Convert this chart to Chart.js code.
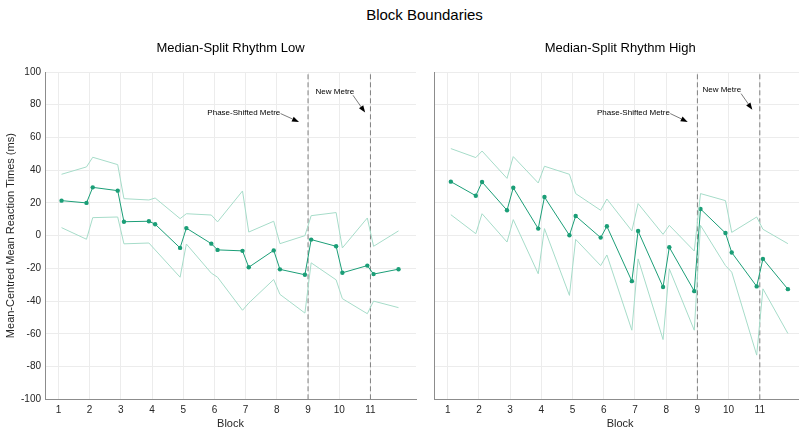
<!DOCTYPE html>
<html>
<head>
<meta charset="utf-8">
<script src="https://cdn.jsdelivr.net/npm/chart.js@4.4.1/dist/chart.umd.min.js"></script>
<style>
  html, body { margin: 0; padding: 0; background: #fff; }
  #fig { position: relative; width: 799px; height: 433px; overflow: hidden; font-family: "Liberation Sans", Arial, sans-serif; }
  #suptitle { position: absolute; left: 0; top: 6px; width: 849px; text-align: center; font-size: 15px; color: #000; }
  .panel { position: absolute; top: 0; height: 433px; }
</style>
</head>
<body>
<div id="fig">
  <div id="suptitle">Block Boundaries</div>
  <div class="panel" style="left:0;width:420px"><canvas id="low" width="420" height="433"></canvas></div>
  <div class="panel" style="left:420px;width:390px"><canvas id="high" width="390" height="433"></canvas></div>
</div>
<script>
// x positions of the first / second half of each block
const blockPos = [1.1, 1.9, 2.1, 2.9, 3.1, 3.9, 4.1, 4.9, 5.1, 5.9, 6.1, 6.9, 7.1, 7.9, 8.1, 8.9, 9.1, 9.9, 10.1, 10.9, 11.1, 11.9];
const blockTicks = [1, 2, 3, 4, 5, 6, 7, 8, 9, 10, 11];
const boundaryBlocks = [9, 11];

// Median-split rhythm low
const lowMean  = [21.4, 20.0, 29.5, 27.5, 8.5, 8.8, 7.0, -7.5, 4.6, -4.9, -8.7, -9.3, -19.3, -9.0, -20.6, -23.9, -2.4, -6.5, -22.7, -18.3, -23.5, -20.5];
const lowUpper = [37.5, 42.0, 47.9, 43.4, 22.6, 21.8, 23.0, 10.4, 13.4, 12.6, 8.4, 27.3, 2.2, 8.8, -4.9, 0.0, 12.2, 14.1, -7.5, 10.8, -6.5, 2.9];
const lowLower = [4.9, -2.2, 11.0, 11.4, -5.0, -4.5, -8.7, -25.4, -5.1, -22.9, -25.4, -45.6, -41.2, -26.8, -35.9, -47.3, -16.6, -27.0, -38.5, -47.7, -40.0, -44.0];

// Median-split rhythm high
const highMean  = [33.0, 24.4, 32.8, 15.5, 29.3, 4.3, 23.6, 0.2, 12.0, -1.2, 5.7, -27.8, 2.8, -31.4, -7.1, -33.9, 16.3, 1.6, -10.3, -31.0, -14.2, -32.7];
const highUpper = [53.2, 47.7, 51.7, 35.0, 48.3, 32.2, 42.4, 37.5, 25.7, 15.5, 22.4, 2.9, 19.6, 0.8, 6.3, -9.4, 25.7, 21.4, 2.0, 11.4, 3.9, -4.9];
const highLower = [12.8, 1.2, 13.4, -3.9, 9.8, -23.3, 4.3, -36.5, -2.3, -18.3, -11.8, -57.8, -14.2, -63.5, -20.3, -57.8, 6.3, -18.3, -22.3, -73.0, -32.5, -59.8];

const MAIN = '#1b9e77';
const CI = '#a6dcc9';
const FONT = '"Liberation Sans", Arial, sans-serif';
const Y_MIN = -100, Y_MAX = 100;

const toXY = (vals) => vals.map((v, i) => ({ x: blockPos[i], y: v }));

// panel title + arrow annotations, placed in data coordinates
const panelDecor = {
  id: 'panelDecor',
  afterDraw(chart, args, opts) {
    const { ctx, chartArea, scales: { x, y } } = chart;
    ctx.save();
    ctx.fillStyle = '#000';
    ctx.font = '13px ' + FONT;
    ctx.textAlign = 'center';
    ctx.textBaseline = 'middle';
    ctx.fillText(opts.title, (chartArea.left + chartArea.right) / 2, 48);

    ctx.font = '8px ' + FONT;
    ctx.textAlign = 'right';
    opts.notes.forEach(n => {
      const tx = x.getPixelForValue(n.tx), ty = y.getPixelForValue(n.ty);
      ctx.fillStyle = '#000';
      ctx.fillText(n.text, tx, ty);
      const ax = x.getPixelForValue(n.ax), ay = y.getPixelForValue(n.ay);
      const hx = x.getPixelForValue(n.hx), hy = y.getPixelForValue(n.hy);
      const ang = Math.atan2(hy - ay, hx - ax);
      const len = 7, wid = 2.6;
      const bx = hx - len * Math.cos(ang), by = hy - len * Math.sin(ang);
      ctx.strokeStyle = '#222';
      ctx.lineWidth = 0.6;
      ctx.beginPath();
      ctx.moveTo(ax, ay);
      ctx.lineTo(bx, by);
      ctx.stroke();
      ctx.beginPath();
      ctx.moveTo(hx, hy);
      ctx.lineTo(bx + wid * Math.sin(ang), by - wid * Math.cos(ang));
      ctx.lineTo(bx - wid * Math.sin(ang), by + wid * Math.cos(ang));
      ctx.closePath();
      ctx.fill();
    });
    ctx.restore();
  }
};

function makePanel(id, title, mean, upper, lower, yAxisWidth, showY, padRight, xMax, notes) {
  const datasets = [
    { data: toXY(upper), borderColor: CI, borderWidth: 1, pointRadius: 0 },
    { data: toXY(lower), borderColor: CI, borderWidth: 1, pointRadius: 0 },
    { data: toXY(mean), borderColor: MAIN, backgroundColor: MAIN, borderWidth: 1,
      pointRadius: 2.2, pointBackgroundColor: MAIN, pointBorderWidth: 0 },
  ];
  boundaryBlocks.forEach(b => {
    datasets.push({ data: [{ x: b, y: Y_MIN }, { x: b, y: Y_MAX }], borderColor: '#808080',
      borderWidth: 1, borderDash: [5, 3], pointRadius: 0 });
  });

  return new Chart(document.getElementById(id), {
    type: 'line',
    data: { datasets },
    plugins: [panelDecor],
    options: {
      responsive: false,
      animation: false,
      layout: { padding: { top: 72, right: padRight, left: 0, bottom: 0 } },
      scales: {
        x: {
          type: 'linear',
          min: 0.57,
          max: xMax,
          afterBuildTicks: s => { s.ticks = blockTicks.map(v => ({ value: v })); },
          afterFit: s => { s.height = 33.7; },
          grid: { color: '#ececec', drawTicks: false },
          border: { color: '#8c8c8c' },
          ticks: { padding: 5, color: '#262626', font: { family: FONT, size: 10 } },
          title: { display: true, text: 'Block', color: '#262626', font: { family: FONT, size: 11 }, padding: { top: 0, bottom: 2 } },
        },
        y: {
          min: Y_MIN,
          max: Y_MAX,
          afterBuildTicks: s => {
            const t = [];
            for (let v = Y_MIN; v <= Y_MAX; v += 20) t.push({ value: v });
            s.ticks = t;
          },
          afterFit: s => { s.width = yAxisWidth; },
          grid: { color: '#ececec', drawTicks: false },
          border: { color: '#8c8c8c' },
          ticks: { padding: 4, color: '#262626', font: { family: FONT, size: 10 },
                   callback: v => showY ? v : '' },
          title: { display: showY, text: 'Mean-Centred Mean Reaction Times (ms)', color: '#262626',
                   font: { family: FONT, size: 11 }, padding: { top: 4, bottom: 0 } },
        },
      },
      plugins: {
        legend: { display: false },
        tooltip: { enabled: false },
        panelDecor: { title, notes },
      },
    },
  });
}

makePanel('low', 'Median-Split Rhythm Low', lowMean, lowUpper, lowLower, 45, true, 4, 12.46, [
  { text: 'Phase-Shifted Metre', tx: 8.11, ty: 74.8, ax: 8.12, ay: 74.6, hx: 8.71, hy: 69.5 },
  { text: 'New Metre', tx: 10.48, ty: 87.6, ax: 10.44, ay: 85.8, hx: 10.83, hy: 75.2 },
]);

makePanel('high', 'Median-Split Rhythm High', highMean, highUpper, highLower, 14.3, false, 0, 12.48, [
  { text: 'Phase-Shifted Metre', tx: 8.12, ty: 74.8, ax: 8.13, ay: 74.6, hx: 8.69, hy: 69.5 },
  { text: 'New Metre', tx: 10.4, ty: 89.3, ax: 10.4, ay: 86.8, hx: 10.76, hy: 77.0 },
]);
</script>
</body>
</html>
